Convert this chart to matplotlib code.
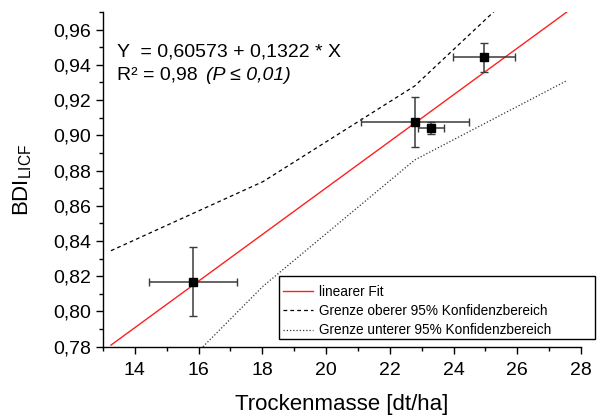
import matplotlib
matplotlib.use("Agg")
import matplotlib.pyplot as plt
from matplotlib.patches import Rectangle
from matplotlib.ticker import MultipleLocator, FuncFormatter

plt.rcParams['font.family'] = ['Liberation Sans', 'DejaVu Sans']
plt.rcParams['mathtext.default'] = 'regular'

# measured data: dry mass vs. BDI_LICF with standard deviations
mass = [15.82, 22.79, 23.29, 24.96]
mass_err = [1.37, 1.68, 0.41, 0.98]
bdi = [0.817, 0.9075, 0.904, 0.9443]
bdi_err = [0.0195, 0.0142, 0.0034, 0.0082]

# linear regression
intercept = 0.60573
slope = 0.01322
fit_x = [13.25, 27.55]

# 95 % confidence band limits
band_x = [13.25, 18.02, 22.78, 27.55]
band_upper = [0.8345, 0.8737, 0.928, 1.009]
band_lower = [0.7273, 0.8143, 0.886, 0.931]

W, H = 603, 415
fig = plt.figure(figsize=(W / 100, H / 100), dpi=100)
ax = fig.add_axes([0.1708, 0.1646, 0.9635 - 0.1708, 0.971 - 0.1646])

fit_y = [intercept + slope * x for x in fit_x]
ax.plot(fit_x, fit_y, color='#ff2020', lw=1.0, label='linearer Fit')
ax.plot(band_x, band_upper, color='black', lw=0.9, linestyle=(0, (3, 2.5)),
        label='Grenze oberer 95% Konfidenzbereich')
ax.plot(band_x, band_lower, color='#333333', lw=0.9, linestyle=(0, (1, 1.6)),
        label='Grenze unterer 95% Konfidenzbereich')

ax.errorbar(mass, bdi, xerr=mass_err, yerr=bdi_err, fmt='s', color='black',
            ecolor='#3a3a3a', elinewidth=1.1, capsize=2.7, capthick=1.0,
            markersize=5.5, zorder=5)

ax.set_xlim(13, 28)
ax.set_ylim(0.78, 0.97)
ax.xaxis.set_major_locator(MultipleLocator(2))
ax.xaxis.set_minor_locator(MultipleLocator(1))
ax.yaxis.set_major_locator(MultipleLocator(0.02))
ax.yaxis.set_minor_locator(MultipleLocator(0.01))
ax.yaxis.set_major_formatter(FuncFormatter(lambda v, p: f"{v:.2f}".replace('.', ',')))
ax.xaxis.set_major_formatter(FuncFormatter(lambda v, p: f"{v:.0f}"))

for s in ['top', 'right']:
    ax.spines[s].set_visible(False)
for s in ['left', 'bottom']:
    ax.spines[s].set_linewidth(1.0)

ax.tick_params(which='major', direction='out', length=5, width=1.0, labelsize=14)
ax.tick_params(which='minor', direction='out', length=3, width=1.0)
ax.tick_params(axis='x', pad=6)

ax.set_xlabel('Trockenmasse [dt/ha]', fontsize=16, labelpad=11)
ax.set_ylabel('BDI$_{LICF}$', fontsize=16)
ax.yaxis.set_label_coords(-0.145, 0.5)

fig.text(117 / W, 1 - 52 / H, 'Y  = 0,60573 + 0,1322 * X', fontsize=14,
         va='center', ha='left')
fig.text(117 / W, 1 - 75 / H, 'R² = 0,98', fontsize=14, va='center', ha='left')
fig.text(206 / W, 1 - 75 / H, '(P ≤ 0,01)', fontsize=14, va='center', ha='left',
         style='italic')

# legend entries without frame, with a separate box around them
leg = fig.legend(loc='upper left', bbox_to_anchor=(279 / W, 1 - 281 / H),
                 bbox_transform=fig.transFigure, fontsize=9.8, frameon=False,
                 borderaxespad=0, handlelength=2.2, handletextpad=0.45,
                 labelspacing=0.38, borderpad=0.3)
box = Rectangle((279 / W, 1 - 339 / H), (595 - 279) / W, (339 - 276) / H,
                transform=fig.transFigure, facecolor='white', edgecolor='black',
                lw=1.0, zorder=leg.get_zorder() - 0.1)
fig.add_artist(box)

fig.savefig('out.png', dpi=100)
